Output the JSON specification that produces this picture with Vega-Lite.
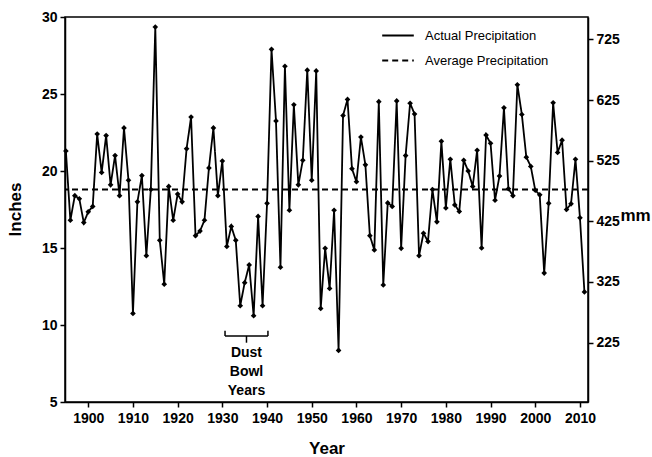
{
  "$schema": "https://vega.github.io/schema/vega-lite/v6.json",
  "width": 523,
  "height": 385,
  "autosize": {"type": "none"},
  "padding": {"left": 65, "top": 17, "right": 64, "bottom": 55},
  "background": "white",
  "config": {
    "font": "Liberation Sans",
    "view": {"stroke": "black", "strokeWidth": 1.5},
    "axis": {
      "domainColor": "black", "domainWidth": 1.5, "tickColor": "black", "tickWidth": 1.5, "tickSize": 5,
      "grid": false, "labelFont": "Liberation Sans", "labelFontSize": 14, "labelFontWeight": "bold", "labelColor": "black",
      "titleFont": "Liberation Sans", "titleFontSize": 17, "titleFontWeight": "bold", "titleColor": "black"
    },
    "legend": {"labelFont": "Liberation Sans", "labelFontSize": 13, "labelColor": "black"}
  },
  "datasets": {
    "precip": [
      {"year":1895,"inches":21.3},{"year":1896,"inches":16.8},{"year":1897,"inches":18.4},{"year":1898,"inches":18.2},{"year":1899,"inches":16.65},
      {"year":1900,"inches":17.35},{"year":1901,"inches":17.7},{"year":1902,"inches":22.4},{"year":1903,"inches":19.9},{"year":1904,"inches":22.3},
      {"year":1905,"inches":19.1},{"year":1906,"inches":21.0},{"year":1907,"inches":18.4},{"year":1908,"inches":22.8},{"year":1909,"inches":19.4},
      {"year":1910,"inches":10.75},{"year":1911,"inches":18.0},{"year":1912,"inches":19.7},{"year":1913,"inches":14.5},{"year":1914,"inches":18.8},
      {"year":1915,"inches":29.35},{"year":1916,"inches":15.5},{"year":1917,"inches":12.65},{"year":1918,"inches":19.0},{"year":1919,"inches":16.8},
      {"year":1920,"inches":18.5},{"year":1921,"inches":18.0},{"year":1922,"inches":21.45},{"year":1923,"inches":23.5},{"year":1924,"inches":15.8},
      {"year":1925,"inches":16.1},{"year":1926,"inches":16.8},{"year":1927,"inches":20.2},{"year":1928,"inches":22.8},{"year":1929,"inches":18.4},
      {"year":1930,"inches":20.65},{"year":1931,"inches":15.1},{"year":1932,"inches":16.4},{"year":1933,"inches":15.5},{"year":1934,"inches":11.25},
      {"year":1935,"inches":12.75},{"year":1936,"inches":13.9},{"year":1937,"inches":10.6},{"year":1938,"inches":17.05},{"year":1939,"inches":11.25},
      {"year":1940,"inches":17.9},{"year":1941,"inches":27.9},{"year":1942,"inches":23.25},{"year":1943,"inches":13.75},{"year":1944,"inches":26.8},
      {"year":1945,"inches":17.45},{"year":1946,"inches":24.3},{"year":1947,"inches":19.1},{"year":1948,"inches":20.7},{"year":1949,"inches":26.55},
      {"year":1950,"inches":19.4},{"year":1951,"inches":26.5},{"year":1952,"inches":11.07},{"year":1953,"inches":14.98},{"year":1954,"inches":12.37},
      {"year":1955,"inches":17.45},{"year":1956,"inches":8.35},{"year":1957,"inches":23.6},{"year":1958,"inches":24.65},{"year":1959,"inches":20.15},
      {"year":1960,"inches":19.3},{"year":1961,"inches":22.2},{"year":1962,"inches":20.4},{"year":1963,"inches":15.8},{"year":1964,"inches":14.87},
      {"year":1965,"inches":24.5},{"year":1966,"inches":12.6},{"year":1967,"inches":17.93},{"year":1968,"inches":17.7},{"year":1969,"inches":24.55},
      {"year":1970,"inches":14.98},{"year":1971,"inches":21.0},{"year":1972,"inches":24.4},{"year":1973,"inches":23.7},{"year":1974,"inches":14.5},
      {"year":1975,"inches":15.96},{"year":1976,"inches":15.43},{"year":1977,"inches":18.8},{"year":1978,"inches":16.7},{"year":1979,"inches":21.93},
      {"year":1980,"inches":17.6},{"year":1981,"inches":20.76},{"year":1982,"inches":17.8},{"year":1983,"inches":17.37},{"year":1984,"inches":20.7},
      {"year":1985,"inches":20.0},{"year":1986,"inches":19.0},{"year":1987,"inches":21.35},{"year":1988,"inches":15.0},{"year":1989,"inches":22.33},
      {"year":1990,"inches":21.8},{"year":1991,"inches":18.1},{"year":1992,"inches":19.67},{"year":1993,"inches":24.1},{"year":1994,"inches":18.85},
      {"year":1995,"inches":18.4},{"year":1996,"inches":25.6},{"year":1997,"inches":23.67},{"year":1998,"inches":20.9},{"year":1999,"inches":20.3},
      {"year":2000,"inches":18.75},{"year":2001,"inches":18.45},{"year":2002,"inches":13.37},{"year":2003,"inches":17.9},{"year":2004,"inches":24.43},
      {"year":2005,"inches":21.2},{"year":2006,"inches":22.0},{"year":2007,"inches":17.5},{"year":2008,"inches":17.87},{"year":2009,"inches":20.76},
      {"year":2010,"inches":16.96},{"year":2011,"inches":12.15}
    ],
    "average": [{"inches": 18.8}],
    "bracket": [
      {"x": 1930.6, "x2": 1940.2, "y": 9.29, "y2": 9.29},
      {"x": 1930.6, "x2": 1930.6, "y": 9.29, "y2": 9.62},
      {"x": 1940.2, "x2": 1940.2, "y": 9.29, "y2": 9.62},
      {"x": 1935.4, "x2": 1935.4, "y": 9.29, "y2": 8.85}
    ],
    "labels": [
      {"x": 1935.4, "y": 8.18, "text": "Dust"},
      {"x": 1935.4, "y": 6.95, "text": "Bowl"},
      {"x": 1935.4, "y": 5.71, "text": "Years"}
    ],
    "mmrange": [{"mm": 127}, {"mm": 762}]
  },
  "layer": [
    {
      "layer": [
        {
          "data": {"name": "average"},
          "mark": {"type": "rule", "color": "black", "strokeWidth": 2},
          "encoding": {
            "y": {"field": "inches", "type": "quantitative"},
            "strokeDash": {"datum": "Average Precipitation"}
          }
        },
        {
          "data": {"name": "precip"},
          "mark": {"type": "line", "color": "black", "strokeWidth": 1.8, "point": {"shape": "diamond", "size": 32, "filled": true, "color": "black"}},
          "encoding": {
            "x": {
              "field": "year", "type": "quantitative",
              "scale": {"domain": [1894.8, 2011.8], "nice": false, "zero": false},
              "axis": {
                "title": "Year", "values": [1900,1910,1920,1930,1940,1950,1960,1970,1980,1990,2000,2010],
                "format": "d", "labelOverlap": false, "labelPadding": 4, "labelFlush": false,
                "titleY": 46, "titleBaseline": "middle"
              }
            },
            "y": {
              "field": "inches", "type": "quantitative",
              "scale": {"domain": [5, 30], "nice": false, "zero": false},
              "axis": {"title": "Inches", "values": [5,10,15,20,25,30], "titleX": -50, "titleY": 192, "titleAlign": "center", "titleBaseline": "middle", "labelPadding": 3}
            },
            "strokeDash": {
              "datum": "Actual Precipitation",
              "scale": {"domain": ["Actual Precipitation", "Average Precipitation"], "range": [[1, 0], [6, 4]]},
              "legend": {"title": null, "orient": "none", "legendX": 316, "legendY": 6, "symbolType": "stroke", "symbolSize": 1000, "symbolStrokeWidth": 2, "symbolStrokeColor": "black", "rowPadding": 0, "clipHeight": 25, "labelOffset": 10}
            }
          }
        },
        {
          "data": {"name": "bracket"},
          "mark": {"type": "rule", "color": "black", "strokeWidth": 1.5},
          "encoding": {
            "x": {"field": "x", "type": "quantitative"},
            "x2": {"field": "x2"},
            "y": {"field": "y", "type": "quantitative"},
            "y2": {"field": "y2"}
          }
        },
        {
          "data": {"name": "labels"},
          "mark": {"type": "text", "font": "Liberation Sans", "fontSize": 14, "fontWeight": "bold", "color": "black", "align": "center", "baseline": "middle"},
          "encoding": {
            "x": {"field": "x", "type": "quantitative"},
            "y": {"field": "y", "type": "quantitative"},
            "text": {"field": "text"}
          }
        }
      ]
    },
    {
      "data": {"name": "mmrange"},
      "mark": {"type": "point", "opacity": 0},
      "encoding": {
        "y": {
          "field": "mm", "type": "quantitative",
          "scale": {"domain": [127, 762], "nice": false, "zero": false},
          "axis": {"orient": "right", "title": "mm", "values": [225,325,425,525,625,725], "titleAngle": 0, "titleX": 47, "titleY": 198, "titleAlign": "center", "titleBaseline": "middle", "labelPadding": 3}
        }
      }
    }
  ],
  "resolve": {"scale": {"y": "independent"}}
}
